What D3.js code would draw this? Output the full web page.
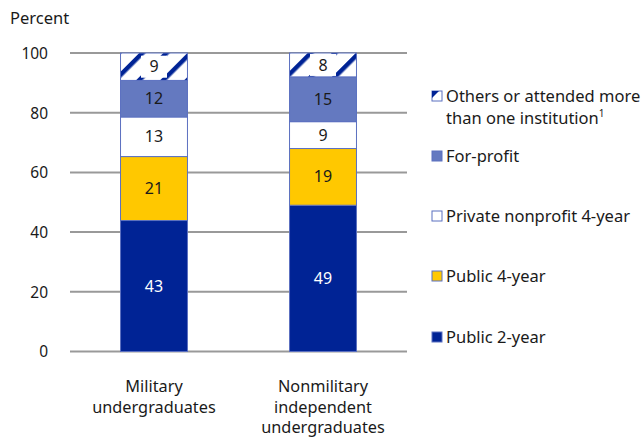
<!DOCTYPE html>
<html>
<head>
<meta charset="utf-8">
<script src="https://cdn.jsdelivr.net/npm/d3@7"></script>
<style>
  body { margin: 0; background: #fff; }
  text { font-family: "Noto Sans", sans-serif; fill: #1a1a1a; }
</style>
</head>
<body>
<div id="chart"></div>
<script>
// data
var groups = ["Military", "Nonmilitary"];
var groupLabels = [["Military", "undergraduates"], ["Nonmilitary", "independent", "undergraduates"]];
var series = ["Public 2-year", "Public 4-year", "Private nonprofit 4-year", "For-profit", "Others or attended more than one institution"];
var public2 = [43, 49];
var public4 = [21, 19];
var privNon = [13, 9];
var forProfit = [12, 15];
var others = [9, 8];
var yTicks = [0, 20, 40, 60, 80, 100];

var colors = ["#002395", "#ffc800", "#ffffff", "#6479c0", "url(#hatch)"];
var labelColors = ["#ffffff", "#1a1a1a", "#1a1a1a", "#1a1a1a", "#1a1a1a"];

var table = groups.map(function(g, i) {
  return { group: g, s0: public2[i], s1: public4[i], s2: privNon[i], s3: forProfit[i], s4: others[i] };
});
var keys = ["s0", "s1", "s2", "s3", "s4"];

var width = 641, height = 437;
var svg = d3.select("#chart").append("svg")
  .attr("width", width)
  .attr("height", height);

var defs = svg.append("defs");
var pat = defs.append("pattern")
  .attr("id", "hatch")
  .attr("patternUnits", "userSpaceOnUse")
  .attr("width", 17).attr("height", 17)
  .attr("patternTransform", "rotate(45)");
pat.append("rect").attr("width", 17).attr("height", 17).attr("fill", "#fff");
pat.append("rect").attr("x", 0).attr("width", 4.5).attr("height", 17).attr("fill", "#002395");

// scales
var x = d3.scaleBand().domain(groups).range([70, 407]).paddingInner(0.598).paddingOuter(0.296);
var y = d3.scaleLinear().domain([0, 1]).range([351.5, 53]);
var yPct = d3.scaleLinear().domain([0, 100]).range([351.5, 53]);

var stack = d3.stack().keys(keys).offset(d3.stackOffsetExpand);
var stacked = stack(table);

// gridlines
svg.append("g").selectAll("line")
  .data(yTicks)
  .enter()
  .append("line")
  .attr("x1", 70).attr("x2", 407)
  .attr("y1", function(d) { return yPct(d); })
  .attr("y2", function(d) { return yPct(d); })
  .attr("stroke", "#999")
  .attr("stroke-width", 2);

// y axis labels
var yAxis = d3.axisLeft(yPct).tickValues(yTicks).tickSize(0).tickPadding(0);
var ya = svg.append("g").attr("transform", "translate(48,0)").call(yAxis);
ya.select(".domain").remove();
ya.selectAll("text")
  .attr("font-size", 15.5)
  .attr("font-family", "Noto Sans, sans-serif")
  .attr("fill", "#1a1a1a")
  .attr("dy", "0.35em");

svg.append("text")
  .attr("x", 10).attr("y", 24)
  .attr("font-size", 16.5)
  .text("Percent");

// bars
var layer = svg.selectAll("g.layer")
  .data(stacked)
  .enter()
  .append("g")
  .attr("class", "layer");

layer.selectAll("rect")
  .data(function(d) { return d.map(function(v) { return { key: d.key, idx: d.index, v: v }; }); })
  .enter()
  .append("rect")
  .attr("x", function(d) { return x(d.v.data.group) + 0.5; })
  .attr("width", x.bandwidth() - 1)
  .attr("y", function(d) { return y(d.v[1]); })
  .attr("height", function(d) { return y(d.v[0]) - y(d.v[1]); })
  .attr("fill", function(d) { return colors[d.idx]; })
  .attr("stroke", "#5b70c0")
  .attr("stroke-width", 1);

// value labels
layer.each(function(d) {
  var g = d3.select(this);
  d.forEach(function(v) {
    var cx = x(v.data.group) + x.bandwidth() / 2;
    var cy = (y(v[0]) + y(v[1])) / 2;
    var val = v.data[d.key];
    if (d.index === 4) {
      g.append("rect")
        .attr("x", cx - 13).attr("y", cy - 11)
        .attr("width", 26).attr("height", 22)
        .attr("fill", "#fff");
    }
    g.append("text")
      .attr("x", cx).attr("y", cy)
      .attr("dy", "0.35em")
      .attr("text-anchor", "middle")
      .attr("font-size", 16)
      .style("fill", labelColors[d.index])
      .text(val);
  });
});

// category labels
groupLabels.forEach(function(lines, i) {
  var cx = x(groups[i]) + x.bandwidth() / 2;
  var t = svg.append("text")
    .attr("x", cx).attr("y", 392)
    .attr("text-anchor", "middle")
    .attr("font-size", 16.3);
  lines.forEach(function(l, j) {
    t.append("tspan").attr("x", cx).attr("dy", j === 0 ? 0 : 20.5).text(l);
  });
});

// legend
var legendY = [96, 156, 216, 276, 337];
var legendOrder = [4, 3, 2, 1, 0];
var legend = svg.append("g");
legendOrder.forEach(function(si, k) {
  var ly = legendY[k];
  legend.append("rect")
    .attr("x", 432).attr("y", ly - 5)
    .attr("width", 10).attr("height", 10)
    .attr("fill", si === 4 ? "#fff" : colors[si])
    .attr("stroke", "#5b70c0")
    .attr("stroke-width", 1);
  if (si === 4) {
    legend.append("path")
      .attr("d", "M" + 432 + "," + (ly - 5) + "h7l-7,7z")
      .attr("fill", "#002395");
  }
  var t = legend.append("text")
    .attr("x", 446).attr("y", ly)
    .attr("dy", "0.35em")
    .attr("font-size", 16.5);
  if (si === 4) {
    t.append("tspan").text("Others or attended more");
    var t2 = legend.append("text")
      .attr("x", 446).attr("y", ly + 22)
      .attr("dy", "0.35em")
      .attr("font-size", 16.5);
    t2.append("tspan").text("than one institution");
    t2.append("tspan").attr("font-size", 10).attr("dy", "-0.7em").text("1");
  } else {
    t.text(series[si]);
  }
});
</script>
</body>
</html>
